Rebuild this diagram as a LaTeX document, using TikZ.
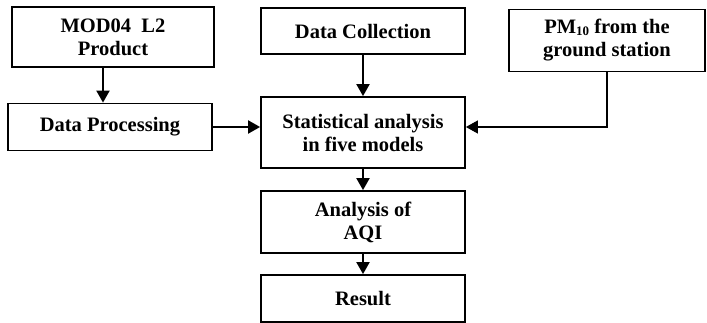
\documentclass[tikz,border=0pt]{standalone}
\usepackage{fontspec}
\setmainfont{Liberation Serif}
\usetikzlibrary{arrows.meta,calc}
\begin{document}
\begin{tikzpicture}[x=1pt,y=-1pt,
  box/.style={draw,line width=1.8pt,rectangle,inner sep=2pt,align=center,
    font=\fontsize{20.5}{23}\selectfont\bfseries},
  arr/.style={line width=2pt,-{Triangle[width=13pt,length=12pt]}},
  thinarr/.style={line width=1.1pt,-{Triangle[width=13pt,length=12pt]}}]
\useasboundingbox (0,0) rectangle (707,323);
\node[box,minimum width=202pt,minimum height=60pt] (mod) at (113,37) {MOD04\ \ L2\\Product};
\node[box,minimum width=204pt,minimum height=47pt] (dp) at (110,127) {Data Processing};
\node[box,minimum width=204pt,minimum height=46pt] (dc) at (363,31) {Data Collection};
\node[box,minimum width=204pt,minimum height=71pt] (stat) at (363,132.5) {Statistical analysis\\in five models};
\node[box,minimum width=196pt,minimum height=62pt] (pm) at (607,40.5) {PM\raisebox{-1.5pt}{\fontsize{13}{13}\selectfont 10} from the\\ground station};
\node[box,minimum width=204pt,minimum height=62pt] (aqi) at (363,222) {Analysis of\\AQI};
\node[box,minimum width=204pt,minimum height=47pt] (res) at (363,298.5) {Result};
\draw[arr] (mod.south -| 103,0) -- (dp.north -| 103,0);
\draw[arr] (dc) -- (stat);
\draw[arr] (dp.east) -- (dp.east -| stat.west);
\draw[thinarr] (pm.south) |- (dp.east -| stat.east);
\draw[arr] (stat) -- (aqi);
\draw[arr] (aqi) -- (res);
\end{tikzpicture}
\end{document}
